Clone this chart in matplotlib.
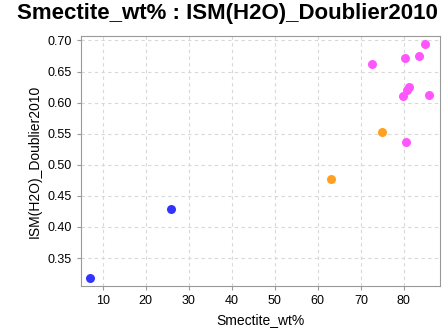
import matplotlib.pyplot as plt

plt.rcParams['font.family'] = ['Liberation Sans', 'DejaVu Sans']

# smectite content vs ISM(H2O), grouped by colour
blue_x = [7.0, 25.8]
blue_y = [0.318, 0.429]
orange_x = [63.0, 74.9]
orange_y = [0.477, 0.552]
pink_x = [84.9, 83.6, 80.2, 72.6, 81.2, 80.8, 79.8, 85.9, 80.5]
pink_y = [0.694, 0.675, 0.671, 0.662, 0.625, 0.620, 0.610, 0.612, 0.536]

fig = plt.figure(figsize=(4.44, 3.31), dpi=100)
ax = fig.add_axes([0.182, 0.136, 0.809, 0.755])

ax.scatter(blue_x, blue_y, s=42, color='#3333ff', zorder=3, linewidths=0)
ax.scatter(orange_x, orange_y, s=42, color='#ffa020', zorder=3, linewidths=0)
ax.scatter(pink_x, pink_y, s=42, color='#ff55ff', zorder=3, linewidths=0)

ax.set_xlim(4.9, 88.4)
ax.set_ylim(0.305, 0.707)
ax.set_xticks([10, 20, 30, 40, 50, 60, 70, 80])
ax.set_yticks([0.35, 0.40, 0.45, 0.50, 0.55, 0.60, 0.65, 0.70])
ax.set_yticklabels(['%.2f' % v for v in ax.get_yticks()])
ax.grid(True, color='#d8d8d8', linestyle=(0, (3, 3)), linewidth=0.8)
ax.set_axisbelow(True)
for s in ax.spines.values():
    s.set_color('#999999')
ax.tick_params(labelsize=9, color='#999999', length=3)

ax.set_xlabel('Smectite_wt%', fontsize=10)
ax.set_ylabel('ISM(H2O)_Doublier2010', fontsize=10)
fig.suptitle('Smectite_wt% : ISM(H2O)_Doublier2010', fontsize=16, fontweight='bold', x=0.512, y=0.99)

fig.savefig('out.png', dpi=100)
